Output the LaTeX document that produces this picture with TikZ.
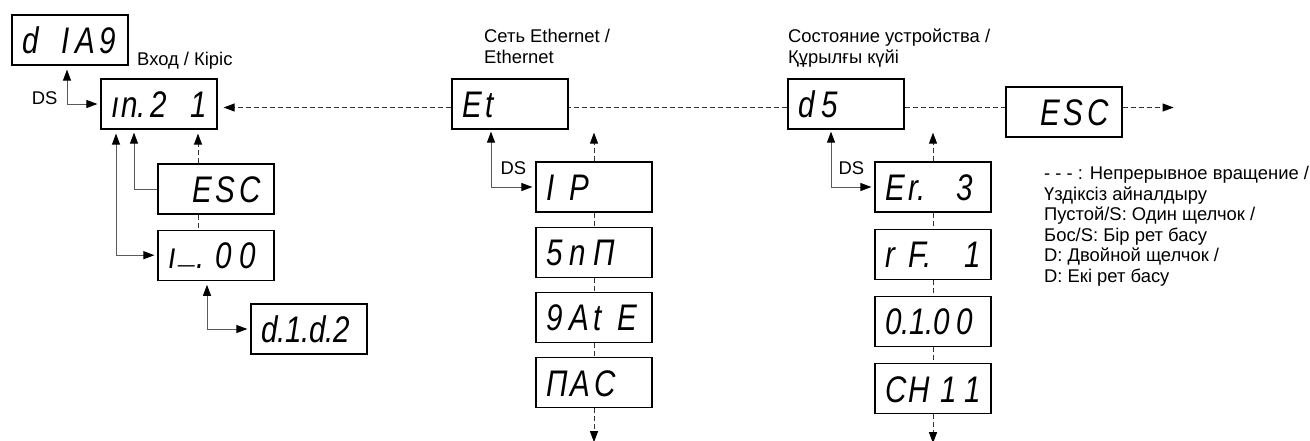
\documentclass[tikz,border=0pt]{standalone}
\usepackage{fontspec}
\setmainfont{Liberation Sans}
\newfontfamily\lcdfont{Liberation Sans}[FakeStretch=0.8]
\usetikzlibrary{positioning,arrows.meta}
% four digit cells of the display
\newcommand\lcd[4]{\makebox[24pt][l]{#1}\makebox[24pt][l]{#2}\makebox[24pt][l]{#3}\makebox[24pt][l]{#4}}
\tikzset{
>={Triangle[length=11pt,width=8pt,color=black]},
display/.style={draw, line width=1.2pt, minimum width=116pt, minimum height=50pt,
  inner sep=0pt, text height=27pt, text depth=0pt,
  font=\lcdfont\itshape\fontsize{37}{37}\selectfont},
link/.style={draw=black!65, line width=1pt, shorten >=3pt},
scroll/.style={draw=black!80, line width=1pt, dash pattern=on 5pt off 3pt},
title/.style={font=\fontsize{18.4}{20.5}\selectfont, align=left, inner sep=0pt},
dslabel/.style={font=\fontsize{18.4}{18.4}\selectfont, inner sep=0pt},
}

\begin{document}
\begin{tikzpicture}[x=1pt, y=-1pt, node distance=14pt]
        \useasboundingbox (0,0) rectangle (1310,440);

        % input
        \node [display] (diag) at (70,40) {\lcd{d}{\hfill I}{\hspace{6pt}A}{\hspace{6pt}9}};
        \node [display] (in21) at (159,104) {\lcd{ı\hspace{2pt}n.}{\hspace{16pt}2}{}{\hfill 1}};
        \node [display] (esc1) at (216,189) {\lcd{}{E}{S}{C}};
        \node [display] (i00) [below=15pt of esc1]
            {\lcd{ı\hspace{4pt}\raisebox{6pt}{\_}.}{}{0}{0}};
        \node [display] (did2) at (309,329) {\lcd{d.}{1.}{d.}{2}};
        \node [title, anchor=base west] (inttl) at (137,65) {Вход / Кіріс};

        % ethernet
        \node [display] (et) at (510,104) {\lcd{E}{t}{}{}};
        \node [display] (ip) at (594,187) {\lcd{I}{P}{}{}};
        \node [display] (snm) [below=of ip] {\lcd{5}{n}{П}{}};
        \node [display] (gate) [below=of snm] {\lcd{9}{A}{t}{E}};
        \node [display] (mac) [below=of gate] {\lcd{П}{A}{C}{}};
        \node [title, anchor=north west] (etttl) at (484,29) {Сеть Ethernet /\\Ethernet};

        % device state
        \node [display] (ds) at (846,104) {\lcd{d}{5}{}{}};
        \node [display] (er3) at (933,187) {\lcd{E}{r.}{}{3}};
        \node [display] (rf1) [below=16pt of er3] {\lcd{r}{F.}{}{\hfill 1}};
        \node [display] (o100) [below=16pt of rf1] {\lcd{0.}{\hfill 1.}{0}{0}};
        \node [display] (ch11) [below=16pt of o100] {\lcd{C}{H}{\hfill 1}{\hfill 1}};
        \node [title, anchor=north west] (dsttl) at (788,29) {Состояние устройства /\\Құрылғы күйі};

        \node [display] (esc2) at (1064,112) {\lcd{}{E}{S}{C}};

        \node [title, anchor=north west] (legend) at (1044,166)
        {
            - - - : Непрерывное вращение /
            \\
            Үздіксіз айналдыру
            \\
            Пустой/S: Один щелчок /
            \\
            Бос/S: Бір рет басу
            \\
            D: Двойной щелчок /
            \\
            D: Екі рет басу
        };

        \coordinate (escup) at ([xshift=-18pt]esc1.north);
        \coordinate (escout) at ([xshift=51pt,yshift=4.5pt]esc2.east);
        \coordinate (macout) at ([yshift=-34pt]mac.south);
        \coordinate (chout) at ([yshift=-29pt]ch11.south);

        % rotation
        \draw[scroll, ->, shorten >=6pt] ([yshift=-3.5pt]et.west) -- ([yshift=-3.5pt]in21.east);
        \draw[scroll] ([yshift=-3.5pt]ds.west) -- ([yshift=-3.5pt]et.east);
        \draw[scroll] ([yshift=-3.5pt]ds.east) -- ([yshift=4.5pt]esc2.west);
        \draw[scroll, ->] ([yshift=4.5pt]esc2.east) -- (escout);
        \draw[scroll, ->, shorten >=4pt] (escup) -- (escup |- in21.south);
        \draw[scroll] ([xshift=-18pt]esc1.south) -- ([xshift=-18pt]i00.north);
        \draw[scroll, ->, shorten >=3pt] (ip.north) -- (ip.north |- et.south);
        \draw[scroll] (ip) -- (snm);
        \draw[scroll] (snm) -- (gate);
        \draw[scroll] (gate) -- (mac);
        \draw[scroll, ->] (mac) -- (macout);
        \draw[scroll, ->, shorten >=3pt] (er3.north) -- (er3.north |- ds.south);
        \draw[scroll] (er3) -- (rf1);
        \draw[scroll] (rf1) -- (o100);
        \draw[scroll] (o100) -- (ch11);
        \draw[scroll, ->] (ch11) -- (chout);

        % clicks
        \draw[link, <->, shorten <=4pt] ([xshift=-3pt]diag.south) |- node[dslabel, pos=.5, anchor=base east, xshift=-9pt] (dsa) {DS} (in21.west);
        \draw[link, ->] (esc1.west) -| ([xshift=-25pt]in21.south);
        \draw[link, <->, shorten <=4pt] ([xshift=-43pt]in21.south) |- (i00.west);
        \draw[link, <->, shorten <=4pt] ([xshift=-9pt]i00.south) |- (did2.west);
        \draw[link, <->, shorten <=2pt] ([xshift=-19pt]et.south) |- node[dslabel, pos=.5, anchor=base west, xshift=9pt, yshift=13pt] (dsb) {DS} (ip.west);
        \draw[link, <->, shorten <=2pt] ([xshift=-15pt]ds.south) |- node[dslabel, pos=.5, anchor=base west, xshift=7pt, yshift=13pt] (dsc) {DS} (er3.west);
    \end{tikzpicture}
\end{document}
